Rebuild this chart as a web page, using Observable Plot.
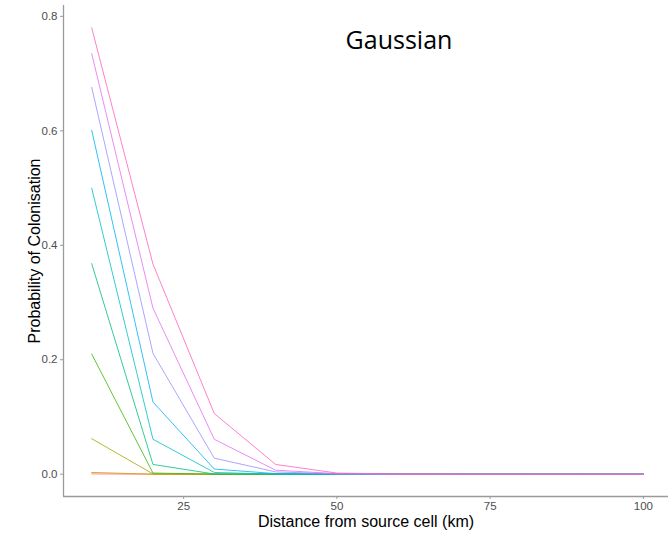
<!DOCTYPE html>
<html>
<head>
<meta charset="utf-8">
<script src="https://cdn.jsdelivr.net/npm/d3@7"></script>
<script src="https://cdn.jsdelivr.net/npm/@observablehq/plot@0.6"></script>
<style>
  html, body { margin: 0; padding: 0; background: #fff; }
  #wrap { position: relative; width: 668px; height: 538px; overflow: hidden; }
  #title {
    position: absolute; left: 300px; width: 198px; top: 22px;
    text-align: center; font-family: "Open Sans", sans-serif; font-size: 25px; color: #000;
  }
</style>
</head>
<body>
<div id="wrap"><div id="title">Gaussian</div></div>
<script>
// Distance classes (km) from the source cell
const distances = [10, 20, 30, 40, 50, 60, 70, 80, 90, 100];

// Colonisation probability per distance, one array per kernel series
const series1  = [0.0005, 0, 0, 0, 0, 0, 0, 0, 0, 0];
const series2  = [0.003, 0, 0, 0, 0, 0, 0, 0, 0, 0];
const series3  = [0.062, 0.0005, 0, 0, 0, 0, 0, 0, 0, 0];
const series4  = [0.21, 0.002, 0, 0, 0, 0, 0, 0, 0, 0];
const series5  = [0.368, 0.017, 0.0003, 0, 0, 0, 0, 0, 0, 0];
const series6  = [0.50, 0.061, 0.003, 0.0001, 0, 0, 0, 0, 0, 0];
const series7  = [0.601, 0.126, 0.009, 0.001, 0, 0, 0, 0, 0, 0];
const series8  = [0.676, 0.211, 0.028, 0.004, 0.0005, 0, 0, 0, 0, 0];
const series9  = [0.735, 0.29, 0.061, 0.007, 0.001, 0, 0, 0, 0, 0];
const series10 = [0.78, 0.367, 0.106, 0.017, 0.002, 0.0002, 0, 0, 0, 0];

const seriesValues = [series1, series2, series3, series4, series5, series6, series7, series8, series9, series10];
const seriesIds = ["1", "2", "3", "4", "5", "6", "7", "8", "9", "10"];
const seriesColors = ["#F8766D", "#D89000", "#A3A500", "#39B600", "#00BF7D",
                      "#00BFC4", "#00B0F6", "#9590FF", "#E76BF3", "#FF62BC"];

const xTicks = [25, 50, 75, 100];
const yTicks = [0, 0.2, 0.4, 0.6, 0.8];
const xDomain = [5.4, 104.1];
const yDomain = [-0.039, 0.819];

const rows = seriesIds.flatMap((id, i) =>
  distances.map((d, j) => ({series: id, distance: d, p: seriesValues[i][j]}))
);

const chart = Plot.plot({
  width: 668,
  height: 538,
  marginLeft: 63,
  marginRight: 0,
  marginTop: 5,
  marginBottom: 42,
  style: {fontFamily: "'Liberation Sans', Arial, sans-serif", background: "#fff"},
  x: {domain: xDomain},
  y: {domain: yDomain},
  color: {type: "ordinal", domain: seriesIds, range: seriesColors},
  marks: [
    Plot.ruleX([xDomain[0]], {stroke: "#9a9a9a", strokeWidth: 1.3}),
    Plot.ruleY([yDomain[0]], {stroke: "#9a9a9a", strokeWidth: 1.3}),
    Plot.axisX({ticks: xTicks, tickSize: 3, tickPadding: 2, stroke: "#9a9a9a",
      fill: "#4d4d4d", fontSize: 11.5, label: null}),
    Plot.axisY({ticks: yTicks, tickSize: 3, tickPadding: 3, stroke: "#9a9a9a",
      fill: "#4d4d4d", fontSize: 11.5, tickFormat: d3.format(".1f"), label: null}),
    Plot.line(rows, {x: "distance", y: "p", z: "series", stroke: "series", strokeWidth: 1, strokeOpacity: 0.8}),
    Plot.text(["Distance from source cell (km)"], {frameAnchor: "bottom", dy: 30, fontSize: 16, fill: "#000"}),
    Plot.text(["Probability of Colonisation"], {frameAnchor: "left", textAnchor: "middle", dx: -29, rotate: -90, fontSize: 16, fill: "#000"})
  ]
});
document.getElementById("wrap").prepend(chart);
</script>
</body>
</html>
